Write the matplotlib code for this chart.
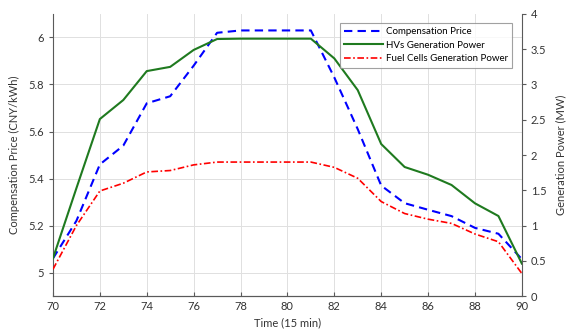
import matplotlib.pyplot as plt

plt.rcParams['font.family'] = ['Lato', 'DejaVu Sans']

time = list(range(70, 91))
price = [5.06, 5.22, 5.46, 5.54, 5.72, 5.75, 5.88, 6.02, 6.03, 6.03, 6.03, 6.03,
         5.83, 5.61, 5.37, 5.295, 5.267, 5.24, 5.19, 5.165, 5.057]
hv_power = [0.535, 1.53, 2.51, 2.78, 3.19, 3.25, 3.49, 3.645, 3.65, 3.65, 3.65, 3.65,
            3.37, 2.92, 2.156, 1.83, 1.72, 1.575, 1.315, 1.135, 0.46]
fc_power = [0.38, 1.0, 1.49, 1.60, 1.76, 1.78, 1.86, 1.90, 1.90, 1.90, 1.90, 1.90,
            1.825, 1.67, 1.34, 1.17, 1.09, 1.03, 0.88, 0.77, 0.32]

fig = plt.figure(figsize=(5.66, 3.33), dpi=100)
ax = fig.add_axes([0.0936, 0.111, 0.8284, 0.847])
ax2 = ax.twinx()

l1, = ax.plot(time, price, color='#0000ff', ls=(0, (4, 2.5)), lw=1.5, label='Compensation Price')
l2, = ax2.plot(time, hv_power, color='#1f7a1f', ls='-', lw=1.5, label='HVs Generation Power')
l3, = ax2.plot(time, fc_power, color='#ff0000', ls=(0, (4, 1.5, 1, 1.5)), lw=1.2,
               label='Fuel Cells Generation Power')

ax.set_xlim(70, 90)
ax.set_ylim(4.9, 6.1)
ax2.set_ylim(0, 4)
ax.set_xticks(range(70, 91, 2))
ax.set_yticks([5, 5.2, 5.4, 5.6, 5.8, 6])
ax.set_yticklabels(['5', '5.2', '5.4', '5.6', '5.8', '6'])
ax2.set_yticks([0, 0.5, 1, 1.5, 2, 2.5, 3, 3.5, 4])
ax2.set_yticklabels(['0', '0.5', '1', '1.5', '2', '2.5', '3', '3.5', '4'])

ax.grid(True, color='#e0e0e0', lw=0.7)
ax.set_axisbelow(True)

for a in (ax, ax2):
    a.spines['top'].set_visible(False)
    for s in a.spines.values():
        s.set_color('#5a5a5a')
        s.set_linewidth(0.8)
ax.spines['right'].set_visible(False)
ax2.spines['left'].set_visible(False)

ax.tick_params(axis='x', direction='in', length=3, colors='#5a5a5a', labelcolor='#333333', labelsize=8)
ax.tick_params(axis='y', direction='out', length=3, colors='#5a5a5a', labelcolor='#333333', labelsize=8)
ax2.tick_params(axis='y', direction='out', length=3, colors='#5a5a5a', labelcolor='#333333', labelsize=8)

ax.set_xlabel('Time (15 min)', fontsize=8, color='#333333', labelpad=4)
ax.set_ylabel('Compensation Price (CNY/kWh)', fontsize=8, color='#333333', labelpad=6)
ax2.set_ylabel('Generation Power (MW)', fontsize=8, color='#333333', labelpad=6)

leg = ax2.legend(handles=[l1, l2, l3], loc='upper right', bbox_to_anchor=(0.99, 0.985),
                 fontsize=7, frameon=True, fancybox=False, handlelength=4,
                 borderpad=0.45, labelspacing=0.45, handletextpad=0.3)
leg.get_frame().set_edgecolor('#8a8a8a')
leg.get_frame().set_linewidth(0.8)

fig.savefig('out.png', dpi=100)
